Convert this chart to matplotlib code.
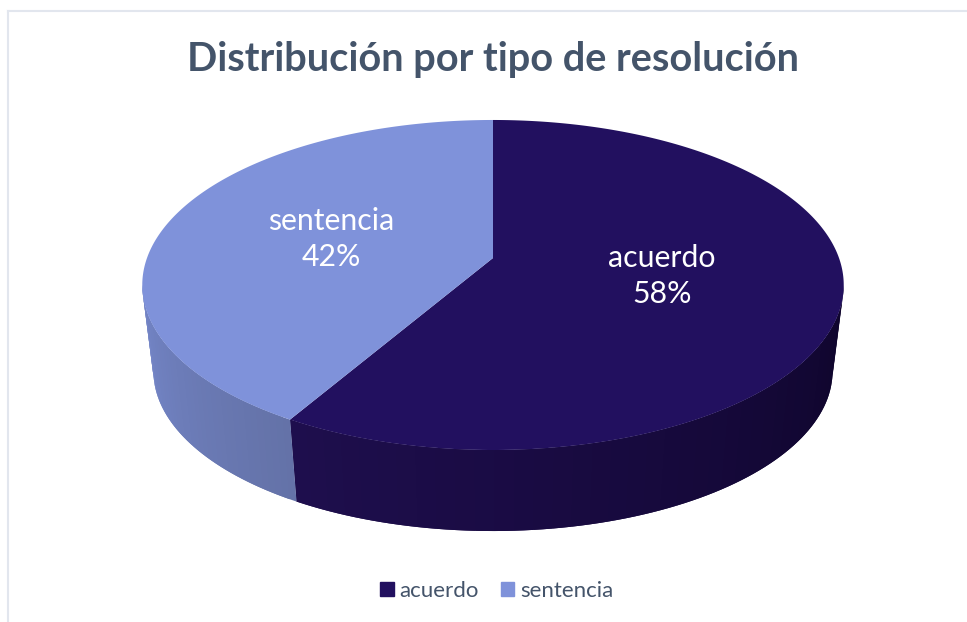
#!/usr/bin/env python3

import matplotlib
matplotlib.use('Agg')
import matplotlib.pyplot as plt
from matplotlib.patches import Patch
import numpy as np

title = 'Distribución por tipo de resolución'
categories = ['acuerdo', 'sentencia']
values = [58.4, 41.6]

top_colors = ['#22105f', '#7f92da']
side_colors = [('#0f052c', '#1e0e4d'), ('#6472a8', '#7486c8')]
text_color = '#44546a'

# Pie geometry in pixels, a circle seen in perspective
CENTER_X = 493
TILT = 0.1636
TOP_RING = (346, 258, 160.6)
BOTTOM_RING = (335, 345, 155.6)


def ring(theta, params):
    # theta runs clockwise from the top of the pie
    a, apex_y, b = params
    u, v = np.sin(theta), np.cos(theta)
    w = 1 + TILT * v
    return CENTER_X + a * u / w, apex_y - b * v / w


def mix(c1, c2, t):
    c1 = np.array(matplotlib.colors.to_rgb(c1))
    c2 = np.array(matplotlib.colors.to_rgb(c2))
    return c1 + (c2 - c1) * t


fig = plt.figure(figsize=(9.67, 6.22), dpi=100)
ax = fig.add_axes([0, 0, 1, 1])
ax.set_xlim(0, 967)
ax.set_ylim(622, 0)
ax.axis('off')

# Chart frame, only left and top edges are in the crop
ax.plot([8, 8], [622, 11], color='#e2e6ee', lw=1.5)
ax.plot([8, 967], [11, 11], color='#e2e6ee', lw=1.5)

edges = np.radians(np.concatenate([[0], np.cumsum(values)]) / sum(values) * 360)
side_start = np.arccos(-TILT)
side_end = 2 * np.pi - side_start

# Side wall, overlapping strips for the shading so no seams show
for i in range(len(values)):
    t0, t1 = max(edges[i], side_start), min(edges[i + 1], side_end)
    if t1 <= t0:
        continue
    steps = np.linspace(t0, t1, 41)
    for j in range(40):
        th = np.linspace(steps[j], steps[min(j + 2, 40)], 5)
        xt, yt = ring(th, TOP_RING)
        xb, yb = ring(th[::-1], BOTTOM_RING)
        col = mix(side_colors[i][0], side_colors[i][1], j / 39)
        ax.fill(np.concatenate([xt, xb]), np.concatenate([yt, yb]),
                color=col, lw=0, zorder=2)

# Top face
for i in range(len(values)):
    th = np.linspace(edges[i], edges[i + 1], 300)
    x, y = ring(th, TOP_RING)
    x = np.concatenate([[CENTER_X], x])
    y = np.concatenate([[TOP_RING[1]], y])
    ax.fill(x, y, color=top_colors[i], lw=0, zorder=3)

font = 'Lato'
ax.text(493, 60, title, ha='center', va='center', family=font,
        fontsize=28.6, fontweight='bold', color=text_color, zorder=5)

label_pos = [(662, 276), (331, 239)]
for i, name in enumerate(categories):
    pct = round(values[i] / sum(values) * 100)
    ax.text(label_pos[i][0], label_pos[i][1], f'{name}\n{pct}%', ha='center',
            va='center', family=font, fontsize=21.8, color='white',
            linespacing=1.38, zorder=5)

handles = [Patch(color=c, label=n) for c, n in zip(top_colors, categories)]
ax.legend(handles=handles, loc='center', bbox_to_anchor=(496.5, 591),
          bbox_transform=ax.transData, ncol=2, frameon=False,
          prop={'family': font, 'size': 16}, labelcolor=text_color,
          handlelength=0.62, handleheight=0.62, handletextpad=0.25,
          columnspacing=1.0)

plt.savefig('out.png', dpi=100)
